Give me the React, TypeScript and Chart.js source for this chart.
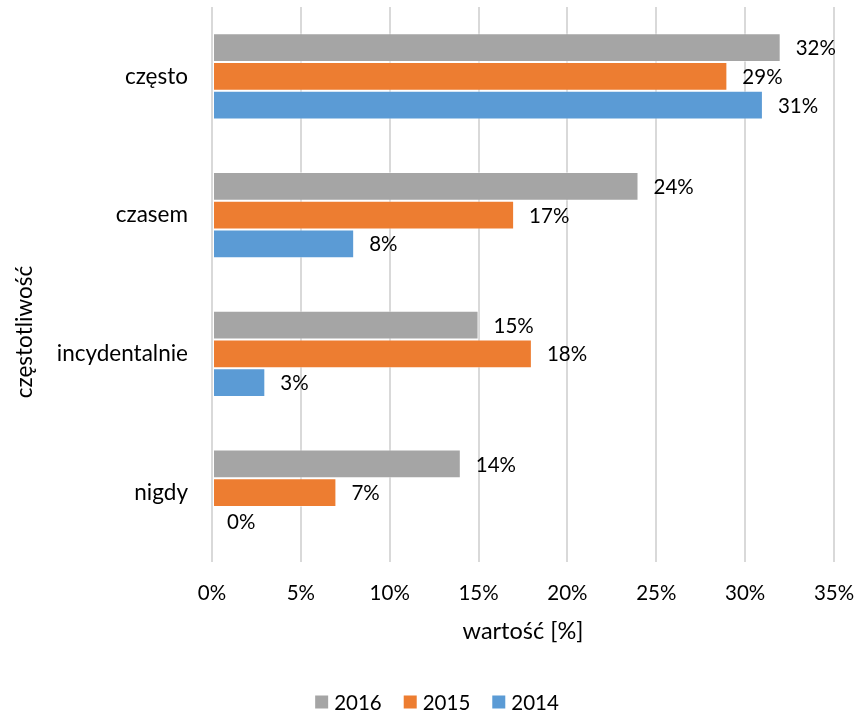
import React, { useEffect, useRef } from "react";
import { Chart, registerables } from "chart.js";

Chart.register(...registerables);

const categories = ["często", "czasem", "incydentalnie", "nigdy"];
const seriesLabels = ["2016", "2015", "2014"];
const values2016 = [32, 24, 15, 14];
const values2015 = [29, 17, 18, 7];
const values2014 = [31, 8, 3, 0];
const xTicks = [0, 5, 10, 15, 20, 25, 30, 35];
const colors = ["#a5a5a5", "#ed7d31", "#5b9bd5"];
const xTitle = "wartość [%]";
const yTitle = "częstotliwość";

const FONT = "Lato";
const TXT = 22.5;
const NUM = 20.5;

const dataLabelsPlugin = {
  id: "dataLabels",
  afterDatasetsDraw(chart: any) {
    const ctx = chart.ctx;
    ctx.save();
    ctx.font = `${NUM}px ${FONT}`;
    ctx.fillStyle = "#000";
    ctx.textAlign = "left";
    ctx.textBaseline = "middle";
    chart.data.datasets.forEach((ds: any, i: number) => {
      const meta = chart.getDatasetMeta(i);
      meta.data.forEach((el: any, j: number) => {
        ctx.fillText(ds.data[j] + "%", el.x + 15, el.y + 1);
      });
    });
    ctx.restore();
  },
};

const titlesLegendPlugin = {
  id: "titlesLegend",
  afterDraw(chart: any) {
    const ctx = chart.ctx;
    ctx.save();
    ctx.fillStyle = "#000";
    // y title
    ctx.font = `${TXT}px ${FONT}`;
    ctx.textAlign = "center";
    ctx.textBaseline = "middle";
    ctx.save();
    ctx.translate(25, 332);
    ctx.rotate(-Math.PI / 2);
    ctx.fillText(yTitle, 0, 0);
    ctx.restore();
    // legend
    ctx.font = `${NUM}px ${FONT}`;
    ctx.textAlign = "left";
    const box = 13;
    const gap = 6;
    const spacing = 22;
    const items = chart.data.datasets.map((ds: any) => ({
      label: ds.label,
      color: ds.backgroundColor,
      w: box + gap + ctx.measureText(ds.label).width,
    }));
    const total = items.reduce((a: number, it: any) => a + it.w, 0) + spacing * (items.length - 1);
    let x = 437 - total / 2;
    const cy = 702;
    items.forEach((it: any) => {
      ctx.fillStyle = it.color;
      ctx.fillRect(x, cy - box / 2, box, box);
      ctx.fillStyle = "#000";
      ctx.fillText(it.label, x + box + gap, cy + 1);
      x += it.w + spacing;
    });
    ctx.restore();
  },
};

export default function App() {
  const ref = useRef<HTMLCanvasElement>(null);
  useEffect(() => {
    const data = [values2016, values2015, values2014];
    const zeroPad = (s: any) => {
      s.paddingTop = 0;
      s.paddingBottom = 0;
      s.paddingLeft = 0;
      s.paddingRight = 0;
    };
    const chart = new Chart(ref.current!, {
      type: "bar",
      data: {
        labels: categories,
        datasets: seriesLabels.map((l, i) => ({
          label: l,
          data: data[i],
          backgroundColor: colors[i],
          borderColor: "rgba(255,255,255,0.45)",
          borderWidth: 1,
          borderSkipped: false,
          barPercentage: 1,
          categoryPercentage: 0.62,
        })),
      },
      options: {
        indexAxis: "y",
        animation: false,
        responsive: false,
        maintainAspectRatio: false,
        layout: { padding: { top: 7, right: 22, left: 0, bottom: 68 } },
        scales: {
          x: {
            min: 0,
            max: 35,
            afterBuildTicks: (s: any) => {
              s.ticks = xTicks.map((v) => ({ value: v }));
            },
            ticks: {
              callback: (v: any) => v + "%",
              color: "#000",
              font: { family: FONT, size: NUM },
              padding: 19,
              maxRotation: 0,
            },
            grid: { color: "#d9d9d9", lineWidth: 2, drawTicks: false },
            border: { display: false },
            title: {
              display: true,
              text: xTitle,
              color: "#000",
              font: { family: FONT, size: 23.5 },
              padding: 0,
            },
            afterFit: (s: any) => {
              s.height = 84;
              zeroPad(s);
            },
          },
          y: {
            ticks: {
              color: "#000",
              font: { family: FONT, size: TXT },
              padding: 16,
            },
            grid: { display: false },
            border: { display: false },
            afterFit: (s: any) => {
              s.width = 212;
              zeroPad(s);
            },
          },
        },
        plugins: {
          legend: { display: false },
          tooltip: { enabled: false },
        },
      },
      plugins: [dataLabelsPlugin, titlesLegendPlugin],
    });
    return () => chart.destroy();
  }, []);
  return (
    <div style={{ position: "fixed", left: 0, top: 0, width: 856, height: 714, background: "#fff" }}>
      <canvas ref={ref} width={856} height={714} />
    </div>
  );
}
